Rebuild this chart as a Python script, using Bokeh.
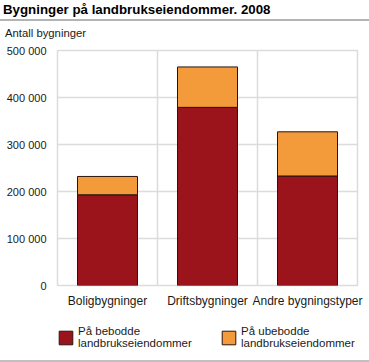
from bokeh.plotting import figure
from bokeh.layouts import column
from bokeh.models import (ColumnDataSource, Span, FixedTicker, Div, Legend, LegendItem,
                          GlobalInlineStyleSheet)
from bokeh.embed import file_html
from bokeh.resources import INLINE

categories = ["Boligbygninger", "Driftsbygninger", "Andre bygningstyper"]
bebodde = [193000, 379000, 233000]
ubebodde = [39000, 86000, 94000]
series_names = ["På bebodde\nlandbrukseiendommer", "På ubebodde\nlandbrukseiendommer"]
colors = ["#9b141c", "#f39b3a"]
y_ticks = [0, 100000, 200000, 300000, 400000, 500000]
y_tick_labels = ["0", "100 000", "200 000", "300 000", "400 000", "500 000"]
title_text = "Bygninger på landbrukseiendommer. 2008"
y_title = "Antall bygninger"

FONT = "Liberation Sans"
W = 369
BAR_LINE = "#2a1410"

src = ColumnDataSource(dict(cat=categories, beb=bebodde, ubeb=ubebodde))

# ---- main chart ----
p = figure(x_range=categories, y_range=(0, 500000), width=W, height=280,
           output_backend="svg", toolbar_location=None,
           min_border_left=57, min_border_right=12,
           min_border_top=8, min_border_bottom=37)
p.x_range.range_padding = 0
p.outline_line_color = "#dcdcdc"
p.outline_line_width = 1.5
p.border_fill_color = "white"

p.vbar_stack(["beb", "ubeb"], x="cat", width=0.6, source=src, color=colors,
             line_color=BAR_LINE, line_width=1)

p.yaxis.ticker = FixedTicker(ticks=y_ticks)
p.yaxis.major_label_overrides = {t: l for t, l in zip(y_ticks, y_tick_labels)}
for ax in (p.xaxis, p.yaxis):
    ax.axis_line_color = None
    ax.major_tick_line_color = None
    ax.minor_tick_line_color = None
    ax.major_label_text_font = FONT
    ax.major_label_text_font_size = "12px"
    ax.major_label_text_color = "#1a1a1a"
p.yaxis.major_label_text_font_size = "11px"
p.yaxis.major_label_standoff = 5
p.xaxis.major_label_standoff = 2

p.xgrid.grid_line_color = None
p.ygrid.grid_line_color = "#dcdcdc"
p.ygrid.grid_line_width = 1.5
for loc in (1, 2):
    p.add_layout(Span(location=loc, dimension="height", line_color="#dcdcdc", line_width=1.5))

# ---- legend strip (hidden copies of the series give the legend its swatches) ----
lg = figure(x_range=categories, y_range=(0, 500000), width=W, height=38,
            output_backend="svg", toolbar_location=None,
            x_axis_type=None, y_axis_type=None,
            min_border_left=52, min_border_right=0, min_border_top=3, min_border_bottom=0)
lg.outline_line_color = None
lg.grid.grid_line_color = None
lg.border_fill_color = "white"
proxies = lg.vbar_stack(["beb", "ubeb"], x="cat", width=0.6, source=src, color=colors,
                        line_color=BAR_LINE, line_width=1)
for r in proxies:
    r.visible = False
legend = Legend(items=[LegendItem(label=series_names[i], renderers=[proxies[i]]) for i in range(2)],
                orientation="horizontal", location="top_left", click_policy="none",
                glyph_width=17, glyph_height=17, label_standoff=4, spacing=17, label_width=125,
                padding=4, margin=0, border_line_color=None, background_fill_alpha=0,
                label_text_font=FONT, label_text_font_size="11.5px", label_text_color="#1a1a1a",
                label_text_line_height=1.08)
lg.add_layout(legend)

# ---- heading, axis title and rules ----
title_div = Div(text=title_text, width=W, height=19, margin=0,
                styles={"font-family": FONT, "font-size": "13.3px", "font-weight": "bold",
                        "color": "#000000", "line-height": "19px", "white-space": "nowrap",
                        "padding-left": "3px"})
line_top = Div(text="", width=W, height=2, margin=0, styles={"background-color": "#b4b4b4"})
ytitle_div = Div(text=y_title, width=W, height=21, margin=0,
                 styles={"font-family": FONT, "font-size": "11.3px", "color": "#1a1a1a",
                         "line-height": "24px", "white-space": "nowrap", "padding-left": "5px"})
line_bot = Div(text="", width=W, height=2, margin=0, styles={"background-color": "#c0c0c0"})

layout = column(title_div, line_top, ytitle_div, p, lg, line_bot, spacing=0)
layout.stylesheets = [GlobalInlineStyleSheet(css="body{margin:0 !important;}")]

open("out.html", "w").write(file_html(layout, INLINE))
